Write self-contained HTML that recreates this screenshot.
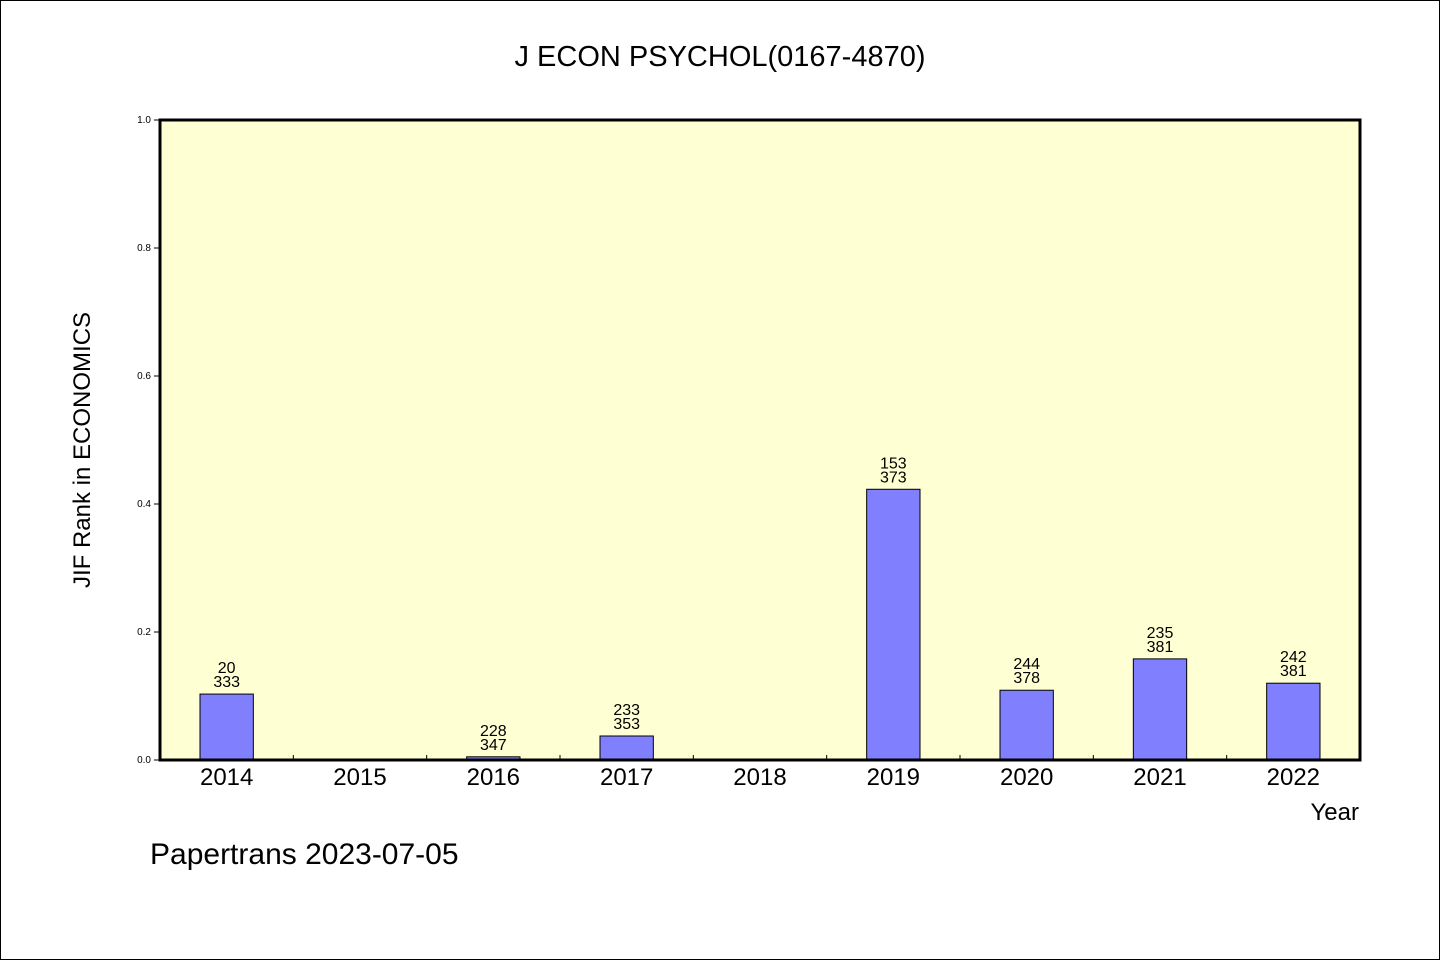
<!DOCTYPE html>
<html><head><meta charset="utf-8"><style>
body{margin:0;background:#fff}
svg text{font-family:"WenQuanYi Zen Hei","Liberation Sans",sans-serif;fill:#000}
</style></head><body>
<svg id="c" width="1440" height="960">
<rect x="0.5" y="0.5" width="1439" height="959" fill="#fff" stroke="#000"/>
<text x="720" y="66" font-size="29" text-anchor="middle">J ECON PSYCHOL(0167-4870)</text>
<rect x="160" y="120" width="1200" height="640" fill="#ffffd4"/>
<g id="marks"></g>
<rect x="160" y="120" width="1200" height="640" fill="none" stroke="#000" stroke-width="3"/>
<text x="90" y="450" font-size="24" text-anchor="middle" transform="rotate(-90 90 450)">JIF Rank in ECONOMICS</text>
<text x="1359" y="820" font-size="24" text-anchor="end">Year</text>
<text x="150" y="864" font-size="30">Papertrans 2023-07-05</text>
</svg>
<script>
const years=["2014","2015","2016","2017","2018","2019","2020","2021","2022"];
const values=[0.103,0,0.005,0.0375,0,0.423,0.109,0.158,0.120];
const ranks=["20","","228","233","","153","244","235","242"];
const totals=["333","","347","353","","373","378","381","381"];
const yTicks=[0,0.2,0.4,0.6,0.8,1.0];
const yTickLabels=["0.0","0.2","0.4","0.6","0.8","1.0"];
const X0=160,W=1200,Y0=760,H=640;
const band=W/years.length;
const xc=i=>X0+band*(i+0.5);
const y=v=>Y0-v*H;
const g=document.getElementById('marks');
const NS="http://www.w3.org/2000/svg";
function mk(t,a){const e=document.createElementNS(NS,t);for(const k in a)e.setAttribute(k,a[k]);g.appendChild(e);return e;}
yTicks.forEach((v,i)=>{
 const l=mk('line',{x1:154,x2:160,y1:y(v),y2:y(v),stroke:'#000'});
 
 
 const t=mk('text',{x:151,y:y(v)+3,'font-size':10,'text-anchor':'end'});
 t.textContent=yTickLabels[i];
 
 
});
years.forEach((yr,i)=>{
 if(i>0){const l=mk('line',{x1:X0+band*i,x2:X0+band*i,y1:Y0-5,y2:Y0,stroke:'#000'});
 
 }
 const t=mk('text',{x:xc(i),y:785,'font-size':24,'text-anchor':'middle'});
 t.textContent=yr;
 
 
 if(values[i]>0){
  const bw=band*0.4;
  const r=mk('rect',{x:xc(i)-bw/2,y:y(values[i]),width:bw,height:values[i]*H,fill:'#8080ff',stroke:'#000','stroke-width':1});
  
  
 }
 if(ranks[i]){
  const t1=mk('text',{x:xc(i),y:y(values[i])-21,'font-size':16,'text-anchor':'middle'});
  t1.textContent=ranks[i];
  
  
  const t2=mk('text',{x:xc(i),y:y(values[i])-7,'font-size':16,'text-anchor':'middle'});
  t2.textContent=totals[i];
  
  
 }
});
</script>
</body></html>
